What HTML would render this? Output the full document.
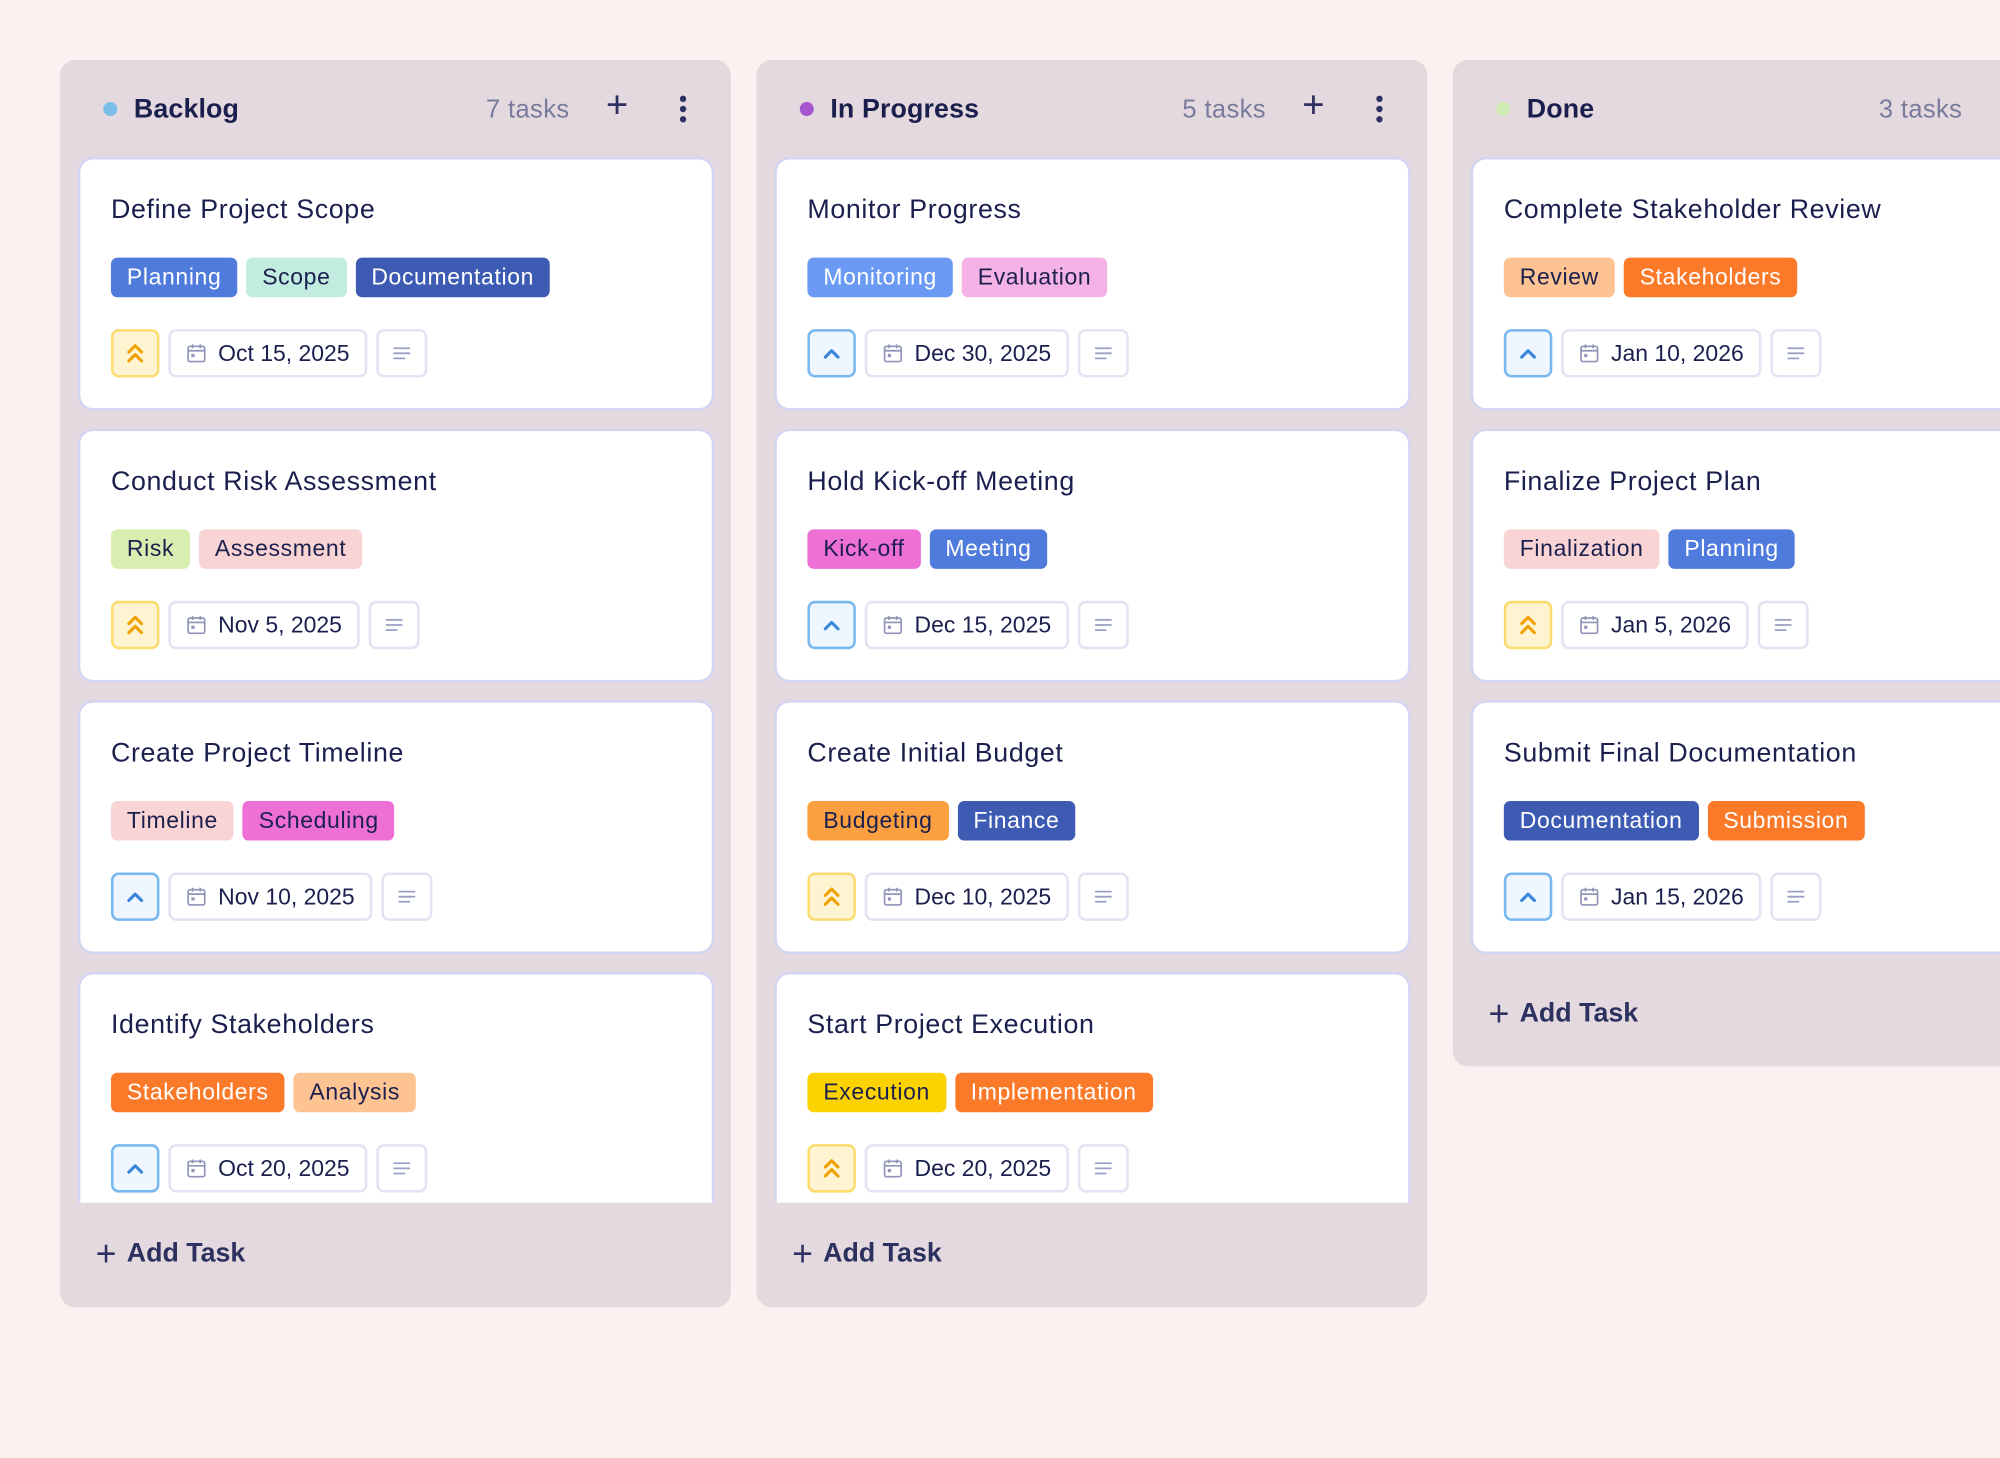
<!DOCTYPE html>
<html><head><meta charset="utf-8">
<style>
html,body{margin:0;padding:0;width:2000px;height:1458px;overflow:hidden;background:#fdf0f0;}
#w{position:absolute;left:0;top:0;width:1568px;height:1143px;transform:scale(1.27551);transform-origin:0 0;font-family:"Liberation Sans",sans-serif;color:#1b1f4d;}
.col{position:absolute;top:47px;width:526px;background:#e4d9df;border-radius:12px;overflow:hidden}
.hd{position:absolute;left:0;top:0;right:0;height:76px}
.dot{position:absolute;left:34px;top:33px;width:11px;height:11px;border-radius:50%}
.ttl{position:absolute;left:58px;top:27px;font-size:21px;font-weight:bold;letter-spacing:0.1px}
.cnt{position:absolute;top:28px;font-size:20px;color:#787b9c;letter-spacing:0.3px}
.plus{position:absolute;top:19px;font-size:30px;color:#2c3160;font-weight:300}
.kb{position:absolute;top:28px;width:6px}
.kb i{display:block;width:5px;height:5px;border-radius:50%;background:#2c3160;margin-bottom:3px}
.list{position:absolute;left:14px;top:76px;width:499px;overflow:hidden}
.card{position:relative;height:195px;background:#fff;border:2px solid #d3d6f0;border-radius:12px;margin-bottom:14px}
.ct{position:absolute;left:24px;top:28px;font-size:21px;letter-spacing:0.5px}
.tags{position:absolute;left:24px;top:77px;display:flex;gap:7px}
.tg{height:31px;line-height:31px;padding:0 12.5px;border-radius:5px;font-size:18px;letter-spacing:0.5px}
.row{position:absolute;left:24px;top:133px;display:flex;gap:7px}
.pr{width:34px;height:34px;border-radius:6px;border:2px solid;display:flex;align-items:center;justify-content:center}
.hi{background:#fff4d2;border-color:#fcdc70}
.md{background:#eef6ff;border-color:#79b8ef}
.dt{height:34px;border:2px solid #e2e4f4;border-radius:6px;display:flex;align-items:center;padding:0 12px;font-size:18px;gap:9px}
.nt{width:36px;height:34px;border:2px solid #e2e4f4;border-radius:6px;display:flex;align-items:center;justify-content:center}
.add{position:absolute;left:28px;font-size:21px;font-weight:bold;color:#2c3160}
.add span{font-weight:300;font-size:28px;margin-right:8px;vertical-align:-3px}
</style></head><body><div id="w">
<svg width="0" height="0" style="position:absolute"><defs>
<symbol id="hi" viewBox="0 0 20 20"><path d="M5 9l5-5 5 5M5 16l5-5 5 5" fill="none" stroke="#f0a000" stroke-width="2.4" stroke-linecap="round" stroke-linejoin="round"/></symbol>
<symbol id="md" viewBox="0 0 20 20"><path d="M5 13l5-5 5 5" fill="none" stroke="#3a86d8" stroke-width="2.4" stroke-linecap="round" stroke-linejoin="round"/></symbol>
<symbol id="cal" viewBox="0 0 16 16"><rect x="1.5" y="2.5" width="13" height="12" rx="1.5" fill="none" stroke="#8f94b8" stroke-width="1.3"/><path d="M1.5 6h13M5 1v3M11 1v3" stroke="#8f94b8" stroke-width="1.3"/><rect x="4" y="8.5" width="2.5" height="2.5" fill="#8f94b8"/></symbol>
<symbol id="nt" viewBox="0 0 16 16"><path d="M2 4h12M2 8h12M2 12h8" stroke="#9aa0c4" stroke-width="1.4" stroke-linecap="round"/></symbol>
</defs></svg>

<!-- Backlog -->
<div class="col" style="left:47px;height:978px">
<div class="hd"><div class="dot" style="background:#7bbfe8"></div><div class="ttl">Backlog</div><div class="cnt" style="left:334px">7 tasks</div><div class="plus" style="left:428px">+</div><div class="kb" style="left:486px"><i></i><i></i><i></i></div></div>
<div class="list" style="height:820px">
<div class="card"><div class="ct">Define Project Scope</div><div class="tags"><div class="tg" style="background:#4f7bdc;color:#fff">Planning</div><div class="tg" style="background:#c2ece0">Scope</div><div class="tg" style="background:#3d5bb3;color:#fff">Documentation</div></div><div class="row"><div class="pr hi"><svg width="20" height="20"><use href="#hi"/></svg></div><div class="dt"><svg width="16" height="16"><use href="#cal"/></svg>Oct 15, 2025</div><div class="nt"><svg width="16" height="16"><use href="#nt"/></svg></div></div></div>
<div class="card"><div class="ct">Conduct Risk Assessment</div><div class="tags"><div class="tg" style="background:#d8eeb0">Risk</div><div class="tg" style="background:#f8d4d4">Assessment</div></div><div class="row"><div class="pr hi"><svg width="20" height="20"><use href="#hi"/></svg></div><div class="dt"><svg width="16" height="16"><use href="#cal"/></svg>Nov 5, 2025</div><div class="nt"><svg width="16" height="16"><use href="#nt"/></svg></div></div></div>
<div class="card"><div class="ct">Create Project Timeline</div><div class="tags"><div class="tg" style="background:#f8d4d4">Timeline</div><div class="tg" style="background:#ee6fd6">Scheduling</div></div><div class="row"><div class="pr md"><svg width="20" height="20"><use href="#md"/></svg></div><div class="dt"><svg width="16" height="16"><use href="#cal"/></svg>Nov 10, 2025</div><div class="nt"><svg width="16" height="16"><use href="#nt"/></svg></div></div></div>
<div class="card"><div class="ct">Identify Stakeholders</div><div class="tags"><div class="tg" style="background:#fb7a2a;color:#fff">Stakeholders</div><div class="tg" style="background:#fdc393">Analysis</div></div><div class="row"><div class="pr md"><svg width="20" height="20"><use href="#md"/></svg></div><div class="dt"><svg width="16" height="16"><use href="#cal"/></svg>Oct 20, 2025</div><div class="nt"><svg width="16" height="16"><use href="#nt"/></svg></div></div></div>
</div>
<div class="add" style="top:920px"><span>+</span>Add Task</div>
</div>

<!-- In Progress -->
<div class="col" style="left:593px;height:978px">
<div class="hd"><div class="dot" style="background:#a855d0"></div><div class="ttl">In Progress</div><div class="cnt" style="left:334px">5 tasks</div><div class="plus" style="left:428px">+</div><div class="kb" style="left:486px"><i></i><i></i><i></i></div></div>
<div class="list" style="height:820px">
<div class="card"><div class="ct">Monitor Progress</div><div class="tags"><div class="tg" style="background:#6b9af5;color:#fff">Monitoring</div><div class="tg" style="background:#f5b2e6">Evaluation</div></div><div class="row"><div class="pr md"><svg width="20" height="20"><use href="#md"/></svg></div><div class="dt"><svg width="16" height="16"><use href="#cal"/></svg>Dec 30, 2025</div><div class="nt"><svg width="16" height="16"><use href="#nt"/></svg></div></div></div>
<div class="card"><div class="ct">Hold Kick-off Meeting</div><div class="tags"><div class="tg" style="background:#ee6fd6">Kick-off</div><div class="tg" style="background:#4f7bdc;color:#fff">Meeting</div></div><div class="row"><div class="pr md"><svg width="20" height="20"><use href="#md"/></svg></div><div class="dt"><svg width="16" height="16"><use href="#cal"/></svg>Dec 15, 2025</div><div class="nt"><svg width="16" height="16"><use href="#nt"/></svg></div></div></div>
<div class="card"><div class="ct">Create Initial Budget</div><div class="tags"><div class="tg" style="background:#fba040">Budgeting</div><div class="tg" style="background:#3d5bb3;color:#fff">Finance</div></div><div class="row"><div class="pr hi"><svg width="20" height="20"><use href="#hi"/></svg></div><div class="dt"><svg width="16" height="16"><use href="#cal"/></svg>Dec 10, 2025</div><div class="nt"><svg width="16" height="16"><use href="#nt"/></svg></div></div></div>
<div class="card"><div class="ct">Start Project Execution</div><div class="tags"><div class="tg" style="background:#fcd200">Execution</div><div class="tg" style="background:#fb7a2a;color:#fff">Implementation</div></div><div class="row"><div class="pr hi"><svg width="20" height="20"><use href="#hi"/></svg></div><div class="dt"><svg width="16" height="16"><use href="#cal"/></svg>Dec 20, 2025</div><div class="nt"><svg width="16" height="16"><use href="#nt"/></svg></div></div></div>
</div>
<div class="add" style="top:920px"><span>+</span>Add Task</div>
</div>

<!-- Done -->
<div class="col" style="left:1139px;height:789px">
<div class="hd"><div class="dot" style="background:#d2ebb2"></div><div class="ttl">Done</div><div class="cnt" style="left:334px">3 tasks</div></div>
<div class="list" style="height:630px">
<div class="card"><div class="ct">Complete Stakeholder Review</div><div class="tags"><div class="tg" style="background:#fdc393">Review</div><div class="tg" style="background:#fb7a2a;color:#fff">Stakeholders</div></div><div class="row"><div class="pr md"><svg width="20" height="20"><use href="#md"/></svg></div><div class="dt"><svg width="16" height="16"><use href="#cal"/></svg>Jan 10, 2026</div><div class="nt"><svg width="16" height="16"><use href="#nt"/></svg></div></div></div>
<div class="card"><div class="ct">Finalize Project Plan</div><div class="tags"><div class="tg" style="background:#f8d4d4">Finalization</div><div class="tg" style="background:#4f7bdc;color:#fff">Planning</div></div><div class="row"><div class="pr hi"><svg width="20" height="20"><use href="#hi"/></svg></div><div class="dt"><svg width="16" height="16"><use href="#cal"/></svg>Jan 5, 2026</div><div class="nt"><svg width="16" height="16"><use href="#nt"/></svg></div></div></div>
<div class="card"><div class="ct">Submit Final Documentation</div><div class="tags"><div class="tg" style="background:#3d5bb3;color:#fff">Documentation</div><div class="tg" style="background:#fb7a2a;color:#fff">Submission</div></div><div class="row"><div class="pr md"><svg width="20" height="20"><use href="#md"/></svg></div><div class="dt"><svg width="16" height="16"><use href="#cal"/></svg>Jan 15, 2026</div><div class="nt"><svg width="16" height="16"><use href="#nt"/></svg></div></div></div>
</div>
<div class="add" style="top:732px"><span>+</span>Add Task</div>
</div>
</div></body></html>
